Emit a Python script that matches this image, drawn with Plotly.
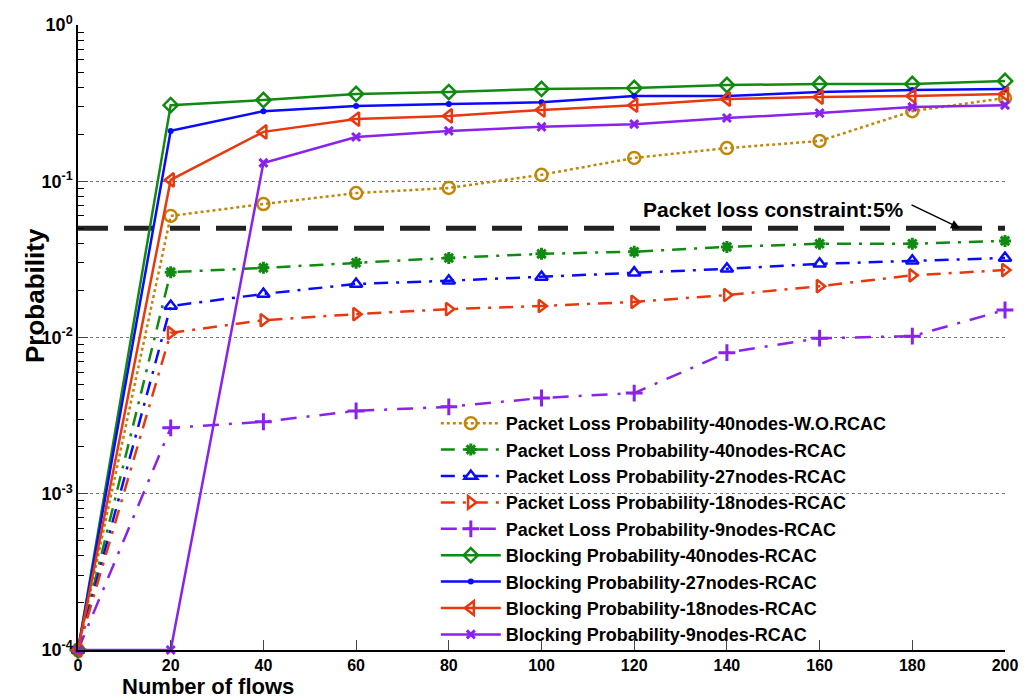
import plotly.graph_objects as go

flows = [0, 20, 40, 60, 80, 100, 120, 140, 160, 180, 200]

pl40_wo = [1e-4, 0.060, 0.0715, 0.084, 0.0906, 0.110, 0.141, 0.163, 0.181, 0.281, 0.341]
pl40 = [1e-4, 0.0262, 0.0279, 0.0301, 0.0323, 0.0343, 0.0354, 0.0380, 0.0398, 0.0398, 0.0415]
pl27 = [1e-4, 0.0159, 0.0190, 0.0220, 0.0231, 0.0244, 0.0260, 0.0275, 0.0296, 0.0310, 0.0323]
pl18 = [1e-4, 0.0107, 0.0129, 0.0141, 0.0152, 0.0159, 0.0169, 0.0187, 0.0213, 0.0250, 0.0270]
pl9 = [1e-4, 0.00264, 0.00289, 0.00339, 0.00360, 0.00410, 0.00441, 0.0080, 0.0099, 0.0102, 0.0150]
bp40 = [1e-4, 0.307, 0.331, 0.362, 0.372, 0.390, 0.395, 0.413, 0.419, 0.419, 0.438]
bp27 = [1e-4, 0.210, 0.281, 0.303, 0.312, 0.320, 0.351, 0.351, 0.372, 0.384, 0.390]
bp18 = [1e-4, 0.102, 0.207, 0.250, 0.262, 0.286, 0.307, 0.336, 0.346, 0.351, 0.362]
bp9 = [1e-4, 1e-4, 0.131, 0.192, 0.210, 0.223, 0.232, 0.254, 0.273, 0.299, 0.307]

constraint = 0.05
constraint_x = [0, 200]

names = [
    "Packet Loss Probability-40nodes-W.O.RCAC",
    "Packet Loss Probability-40nodes-RCAC",
    "Packet Loss Probability-27nodes-RCAC",
    "Packet Loss Probability-18nodes-RCAC",
    "Packet Loss Probability-9nodes-RCAC",
    "Blocking Probability-40nodes-RCAC",
    "Blocking Probability-27nodes-RCAC",
    "Blocking Probability-18nodes-RCAC",
    "Blocking Probability-9nodes-RCAC",
]

ytickvals = [1e-4, 1e-3, 1e-2, 1e-1, 1]
yticktext = ["10<sup>-4</sup>", "10<sup>-3</sup>", "10<sup>-2</sup>", "10<sup>-1</sup>", "10<sup>0</sup>"]

GREEN = "#118a11"
BLUE = "#0a0aff"
RED = "#e8380e"
PURPLE = "#8a22ee"
BROWN = "#c0860a"

series = [
    (pl40_wo, BROWN, "dot", "circle-open", 12, 2.5),
    (pl40, GREEN, "14px,8px,3px,8px", "asterisk-open", 10, 3),
    (pl27, BLUE, "14px,8px,3px,8px", "triangle-up-open", 11, 2.5),
    (pl18, RED, "14px,8px,3px,8px", "triangle-right-open", 11, 2.5),
    (pl9, PURPLE, "16px,10px,3px,10px", "cross-thin-open", 12, 3),
    (bp40, GREEN, "solid", "diamond-open", 11, 2.5),
    (bp27, BLUE, "solid", "circle", 6, 0),
    (bp18, RED, "solid", "triangle-left-open", 12, 2.5),
    (bp9, PURPLE, "solid", "x-thin-open", 8, 3),
]

fig = go.Figure()

fig.add_trace(go.Scatter(
    x=constraint_x, y=[constraint, constraint], mode="lines",
    line=dict(color="#222222", width=5, dash="30px,16px"),
    showlegend=False, hoverinfo="skip",
))

for (vals, col, dash, sym, size, mlw), name in zip(series, names):
    fig.add_trace(go.Scatter(
        x=flows, y=vals, mode="lines+markers", name=name,
        line=dict(color=col, width=2.5, dash=dash),
        marker=dict(symbol=sym, size=size, color=col,
                    line=dict(color=col, width=mlw)),
        cliponaxis=False,
    ))

fig.update_layout(
    width=1019, height=692,
    margin=dict(l=70, r=22, t=17, b=50),
    paper_bgcolor="white", plot_bgcolor="white",
    font=dict(family="Liberation Sans, Arial, sans-serif", color="black", size=16, weight="bold"),
    showlegend=True,
    legend=dict(
        x=0.386, y=0.392, xanchor="left", yanchor="top",
        bgcolor="rgba(0,0,0,0)", borderwidth=0,
        font=dict(size=18, weight="bold", family="Liberation Sans, Arial, sans-serif"),
        tracegroupgap=0, itemwidth=60,
    ),
    xaxis=dict(
        range=[0, 200], tickvals=flows, ticks="inside", ticklen=10, tickwidth=1.2,
        showline=True, linecolor="black", linewidth=1.5, showgrid=False, zeroline=False,
        tickfont=dict(size=16, weight="bold"), automargin=False,
    ),
    yaxis=dict(
        type="log", range=[-4, 0], tickvals=ytickvals, ticktext=yticktext,
        ticks="inside", ticklen=10, tickwidth=1.2,
        showline=True, linecolor="black", linewidth=1.5,
        showgrid=True, gridcolor="#777777", griddash="dot", gridwidth=1,
        zeroline=False, automargin=False,
        tickfont=dict(size=18, weight="bold"),
        minor=dict(ticks="inside", ticklen=6, tickcolor="black", showgrid=False,
                   dtick="D1"),
    ),
    annotations=[
        dict(text="Probability", xref="paper", yref="paper",
             x=-0.0464, y=0.568, xanchor="center", yanchor="middle", textangle=-90,
             showarrow=False, font=dict(size=26, weight="bold")),
        dict(text="Number of flows", xref="paper", yref="paper",
             x=0.14, y=-0.0576, xanchor="center", yanchor="middle",
             showarrow=False, font=dict(size=22, weight="bold")),
        dict(text="Packet loss constraint:5%", xref="x", yref="y",
             x=150, y=-1.265, xanchor="center", yanchor="bottom",
             showarrow=False, font=dict(size=21, weight="bold")),
        dict(text="", xref="x", yref="y", x=190.3, y=-1.3,
             ax=-50, ay=-24, showarrow=True, arrowhead=2, arrowsize=1.2,
             arrowwidth=1.5, arrowcolor="black"),
    ],
)

fig.write_html("out.html")
